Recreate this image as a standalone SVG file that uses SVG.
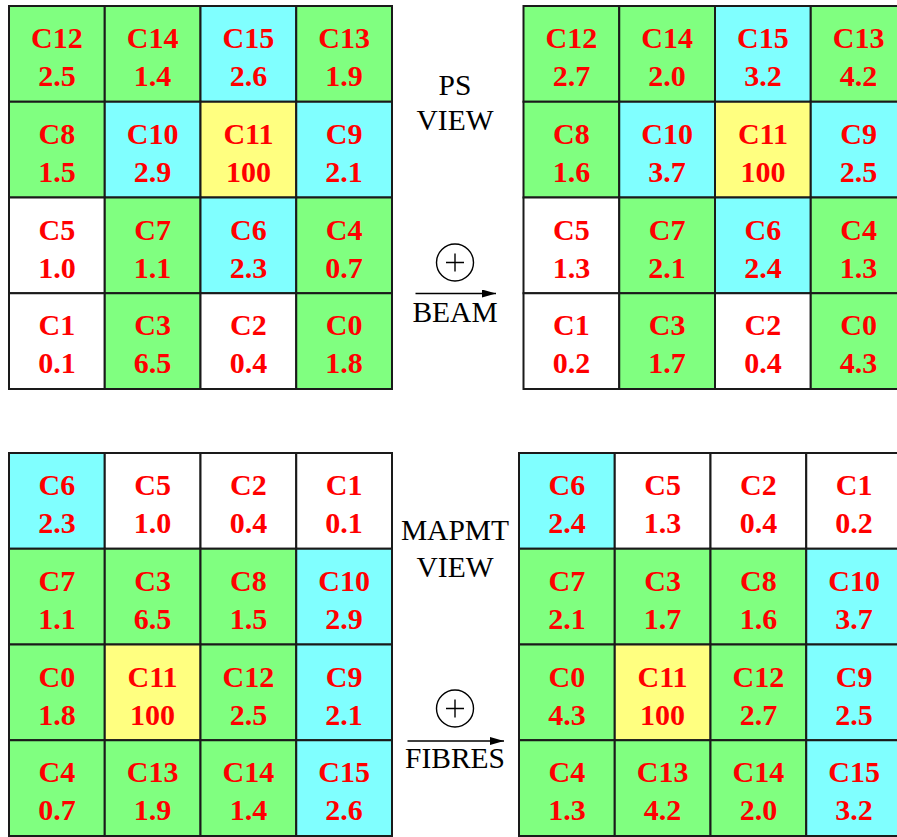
<svg xmlns="http://www.w3.org/2000/svg" width="897" height="837" viewBox="0 0 897 837">
<defs>
<style>
.g{fill:#80FF80}.c{fill:#80FFFF}.y{fill:#FFFF80}.w{fill:#FFFFFF}
.g,.c,.y,.w{stroke:#1a1a1a;stroke-width:2}
.t{font-family:"Liberation Serif","Times New Roman",serif;font-weight:bold;font-size:30px;fill:#FF0000;text-anchor:middle}
.lbl{font-family:"Liberation Serif","Times New Roman",serif;font-size:29.5px;fill:#000;text-anchor:middle}
.sym{fill:none;stroke:#000;stroke-width:1.4}
</style>
<marker id="ah" viewBox="0 0 14 8" refX="14" refY="4" markerWidth="14" markerHeight="8" markerUnits="userSpaceOnUse" orient="auto">
<path d="M0,0 L14,4 L0,8 Z" fill="#000"/>
</marker>
</defs>
<rect x="0" y="0" width="897" height="837" fill="#fff"/>

<g id="grid-ps-left">
<g id="tl-C12"><rect class="g" x="9" y="6" width="95.75" height="95.75"/><text class="t" x="56.9" y="48">C12</text><text class="t" x="56.9" y="86">2.5</text></g>
<g id="tl-C14"><rect class="g" x="104.75" y="6" width="95.75" height="95.75"/><text class="t" x="152.6" y="48">C14</text><text class="t" x="152.6" y="86">1.4</text></g>
<g id="tl-C15"><rect class="c" x="200.5" y="6" width="95.75" height="95.75"/><text class="t" x="248.4" y="48">C15</text><text class="t" x="248.4" y="86">2.6</text></g>
<g id="tl-C13"><rect class="g" x="296.25" y="6" width="95.75" height="95.75"/><text class="t" x="344.1" y="48">C13</text><text class="t" x="344.1" y="86">1.9</text></g>
<g id="tl-C8"><rect class="g" x="9" y="101.75" width="95.75" height="95.75"/><text class="t" x="56.9" y="143.75">C8</text><text class="t" x="56.9" y="181.75">1.5</text></g>
<g id="tl-C10"><rect class="c" x="104.75" y="101.75" width="95.75" height="95.75"/><text class="t" x="152.6" y="143.75">C10</text><text class="t" x="152.6" y="181.75">2.9</text></g>
<g id="tl-C11"><rect class="y" x="200.5" y="101.75" width="95.75" height="95.75"/><text class="t" x="248.4" y="143.75">C11</text><text class="t" x="248.4" y="181.75">100</text></g>
<g id="tl-C9"><rect class="c" x="296.25" y="101.75" width="95.75" height="95.75"/><text class="t" x="344.1" y="143.75">C9</text><text class="t" x="344.1" y="181.75">2.1</text></g>
<g id="tl-C5"><rect class="w" x="9" y="197.5" width="95.75" height="95.75"/><text class="t" x="56.9" y="239.5">C5</text><text class="t" x="56.9" y="277.5">1.0</text></g>
<g id="tl-C7"><rect class="g" x="104.75" y="197.5" width="95.75" height="95.75"/><text class="t" x="152.6" y="239.5">C7</text><text class="t" x="152.6" y="277.5">1.1</text></g>
<g id="tl-C6"><rect class="c" x="200.5" y="197.5" width="95.75" height="95.75"/><text class="t" x="248.4" y="239.5">C6</text><text class="t" x="248.4" y="277.5">2.3</text></g>
<g id="tl-C4"><rect class="g" x="296.25" y="197.5" width="95.75" height="95.75"/><text class="t" x="344.1" y="239.5">C4</text><text class="t" x="344.1" y="277.5">0.7</text></g>
<g id="tl-C1"><rect class="w" x="9" y="293.25" width="95.75" height="95.75"/><text class="t" x="56.9" y="335.25">C1</text><text class="t" x="56.9" y="373.25">0.1</text></g>
<g id="tl-C3"><rect class="g" x="104.75" y="293.25" width="95.75" height="95.75"/><text class="t" x="152.6" y="335.25">C3</text><text class="t" x="152.6" y="373.25">6.5</text></g>
<g id="tl-C2"><rect class="w" x="200.5" y="293.25" width="95.75" height="95.75"/><text class="t" x="248.4" y="335.25">C2</text><text class="t" x="248.4" y="373.25">0.4</text></g>
<g id="tl-C0"><rect class="g" x="296.25" y="293.25" width="95.75" height="95.75"/><text class="t" x="344.1" y="335.25">C0</text><text class="t" x="344.1" y="373.25">1.8</text></g>
</g>

<g id="grid-ps-right">
<g id="tr-C12"><rect class="g" x="523.5" y="6" width="95.75" height="95.75"/><text class="t" x="571.4" y="48">C12</text><text class="t" x="571.4" y="86">2.7</text></g>
<g id="tr-C14"><rect class="g" x="619.25" y="6" width="95.75" height="95.75"/><text class="t" x="667.1" y="48">C14</text><text class="t" x="667.1" y="86">2.0</text></g>
<g id="tr-C15"><rect class="c" x="715" y="6" width="95.75" height="95.75"/><text class="t" x="762.9" y="48">C15</text><text class="t" x="762.9" y="86">3.2</text></g>
<g id="tr-C13"><rect class="g" x="810.75" y="6" width="95.75" height="95.75"/><text class="t" x="858.6" y="48">C13</text><text class="t" x="858.6" y="86">4.2</text></g>
<g id="tr-C8"><rect class="g" x="523.5" y="101.75" width="95.75" height="95.75"/><text class="t" x="571.4" y="143.75">C8</text><text class="t" x="571.4" y="181.75">1.6</text></g>
<g id="tr-C10"><rect class="c" x="619.25" y="101.75" width="95.75" height="95.75"/><text class="t" x="667.1" y="143.75">C10</text><text class="t" x="667.1" y="181.75">3.7</text></g>
<g id="tr-C11"><rect class="y" x="715" y="101.75" width="95.75" height="95.75"/><text class="t" x="762.9" y="143.75">C11</text><text class="t" x="762.9" y="181.75">100</text></g>
<g id="tr-C9"><rect class="c" x="810.75" y="101.75" width="95.75" height="95.75"/><text class="t" x="858.6" y="143.75">C9</text><text class="t" x="858.6" y="181.75">2.5</text></g>
<g id="tr-C5"><rect class="w" x="523.5" y="197.5" width="95.75" height="95.75"/><text class="t" x="571.4" y="239.5">C5</text><text class="t" x="571.4" y="277.5">1.3</text></g>
<g id="tr-C7"><rect class="g" x="619.25" y="197.5" width="95.75" height="95.75"/><text class="t" x="667.1" y="239.5">C7</text><text class="t" x="667.1" y="277.5">2.1</text></g>
<g id="tr-C6"><rect class="c" x="715" y="197.5" width="95.75" height="95.75"/><text class="t" x="762.9" y="239.5">C6</text><text class="t" x="762.9" y="277.5">2.4</text></g>
<g id="tr-C4"><rect class="g" x="810.75" y="197.5" width="95.75" height="95.75"/><text class="t" x="858.6" y="239.5">C4</text><text class="t" x="858.6" y="277.5">1.3</text></g>
<g id="tr-C1"><rect class="w" x="523.5" y="293.25" width="95.75" height="95.75"/><text class="t" x="571.4" y="335.25">C1</text><text class="t" x="571.4" y="373.25">0.2</text></g>
<g id="tr-C3"><rect class="g" x="619.25" y="293.25" width="95.75" height="95.75"/><text class="t" x="667.1" y="335.25">C3</text><text class="t" x="667.1" y="373.25">1.7</text></g>
<g id="tr-C2"><rect class="w" x="715" y="293.25" width="95.75" height="95.75"/><text class="t" x="762.9" y="335.25">C2</text><text class="t" x="762.9" y="373.25">0.4</text></g>
<g id="tr-C0"><rect class="g" x="810.75" y="293.25" width="95.75" height="95.75"/><text class="t" x="858.6" y="335.25">C0</text><text class="t" x="858.6" y="373.25">4.3</text></g>
</g>

<g id="grid-mapmt-left">
<g id="bl-C6"><rect class="c" x="9" y="453" width="95.75" height="95.75"/><text class="t" x="56.9" y="495">C6</text><text class="t" x="56.9" y="533">2.3</text></g>
<g id="bl-C5"><rect class="w" x="104.75" y="453" width="95.75" height="95.75"/><text class="t" x="152.6" y="495">C5</text><text class="t" x="152.6" y="533">1.0</text></g>
<g id="bl-C2"><rect class="w" x="200.5" y="453" width="95.75" height="95.75"/><text class="t" x="248.4" y="495">C2</text><text class="t" x="248.4" y="533">0.4</text></g>
<g id="bl-C1"><rect class="w" x="296.25" y="453" width="95.75" height="95.75"/><text class="t" x="344.1" y="495">C1</text><text class="t" x="344.1" y="533">0.1</text></g>
<g id="bl-C7"><rect class="g" x="9" y="548.75" width="95.75" height="95.75"/><text class="t" x="56.9" y="590.75">C7</text><text class="t" x="56.9" y="628.75">1.1</text></g>
<g id="bl-C3"><rect class="g" x="104.75" y="548.75" width="95.75" height="95.75"/><text class="t" x="152.6" y="590.75">C3</text><text class="t" x="152.6" y="628.75">6.5</text></g>
<g id="bl-C8"><rect class="g" x="200.5" y="548.75" width="95.75" height="95.75"/><text class="t" x="248.4" y="590.75">C8</text><text class="t" x="248.4" y="628.75">1.5</text></g>
<g id="bl-C10"><rect class="c" x="296.25" y="548.75" width="95.75" height="95.75"/><text class="t" x="344.1" y="590.75">C10</text><text class="t" x="344.1" y="628.75">2.9</text></g>
<g id="bl-C0"><rect class="g" x="9" y="644.5" width="95.75" height="95.75"/><text class="t" x="56.9" y="686.5">C0</text><text class="t" x="56.9" y="724.5">1.8</text></g>
<g id="bl-C11"><rect class="y" x="104.75" y="644.5" width="95.75" height="95.75"/><text class="t" x="152.6" y="686.5">C11</text><text class="t" x="152.6" y="724.5">100</text></g>
<g id="bl-C12"><rect class="g" x="200.5" y="644.5" width="95.75" height="95.75"/><text class="t" x="248.4" y="686.5">C12</text><text class="t" x="248.4" y="724.5">2.5</text></g>
<g id="bl-C9"><rect class="c" x="296.25" y="644.5" width="95.75" height="95.75"/><text class="t" x="344.1" y="686.5">C9</text><text class="t" x="344.1" y="724.5">2.1</text></g>
<g id="bl-C4"><rect class="g" x="9" y="740.25" width="95.75" height="95.75"/><text class="t" x="56.9" y="782.25">C4</text><text class="t" x="56.9" y="820.25">0.7</text></g>
<g id="bl-C13"><rect class="g" x="104.75" y="740.25" width="95.75" height="95.75"/><text class="t" x="152.6" y="782.25">C13</text><text class="t" x="152.6" y="820.25">1.9</text></g>
<g id="bl-C14"><rect class="g" x="200.5" y="740.25" width="95.75" height="95.75"/><text class="t" x="248.4" y="782.25">C14</text><text class="t" x="248.4" y="820.25">1.4</text></g>
<g id="bl-C15"><rect class="c" x="296.25" y="740.25" width="95.75" height="95.75"/><text class="t" x="344.1" y="782.25">C15</text><text class="t" x="344.1" y="820.25">2.6</text></g>
</g>

<g id="grid-mapmt-right">
<g id="br-C6"><rect class="c" x="519" y="453" width="95.75" height="95.75"/><text class="t" x="566.9" y="495">C6</text><text class="t" x="566.9" y="533">2.4</text></g>
<g id="br-C5"><rect class="w" x="614.75" y="453" width="95.75" height="95.75"/><text class="t" x="662.6" y="495">C5</text><text class="t" x="662.6" y="533">1.3</text></g>
<g id="br-C2"><rect class="w" x="710.5" y="453" width="95.75" height="95.75"/><text class="t" x="758.4" y="495">C2</text><text class="t" x="758.4" y="533">0.4</text></g>
<g id="br-C1"><rect class="w" x="806.25" y="453" width="95.75" height="95.75"/><text class="t" x="854.1" y="495">C1</text><text class="t" x="854.1" y="533">0.2</text></g>
<g id="br-C7"><rect class="g" x="519" y="548.75" width="95.75" height="95.75"/><text class="t" x="566.9" y="590.75">C7</text><text class="t" x="566.9" y="628.75">2.1</text></g>
<g id="br-C3"><rect class="g" x="614.75" y="548.75" width="95.75" height="95.75"/><text class="t" x="662.6" y="590.75">C3</text><text class="t" x="662.6" y="628.75">1.7</text></g>
<g id="br-C8"><rect class="g" x="710.5" y="548.75" width="95.75" height="95.75"/><text class="t" x="758.4" y="590.75">C8</text><text class="t" x="758.4" y="628.75">1.6</text></g>
<g id="br-C10"><rect class="c" x="806.25" y="548.75" width="95.75" height="95.75"/><text class="t" x="854.1" y="590.75">C10</text><text class="t" x="854.1" y="628.75">3.7</text></g>
<g id="br-C0"><rect class="g" x="519" y="644.5" width="95.75" height="95.75"/><text class="t" x="566.9" y="686.5">C0</text><text class="t" x="566.9" y="724.5">4.3</text></g>
<g id="br-C11"><rect class="y" x="614.75" y="644.5" width="95.75" height="95.75"/><text class="t" x="662.6" y="686.5">C11</text><text class="t" x="662.6" y="724.5">100</text></g>
<g id="br-C12"><rect class="g" x="710.5" y="644.5" width="95.75" height="95.75"/><text class="t" x="758.4" y="686.5">C12</text><text class="t" x="758.4" y="724.5">2.7</text></g>
<g id="br-C9"><rect class="c" x="806.25" y="644.5" width="95.75" height="95.75"/><text class="t" x="854.1" y="686.5">C9</text><text class="t" x="854.1" y="724.5">2.5</text></g>
<g id="br-C4"><rect class="g" x="519" y="740.25" width="95.75" height="95.75"/><text class="t" x="566.9" y="782.25">C4</text><text class="t" x="566.9" y="820.25">1.3</text></g>
<g id="br-C13"><rect class="g" x="614.75" y="740.25" width="95.75" height="95.75"/><text class="t" x="662.6" y="782.25">C13</text><text class="t" x="662.6" y="820.25">4.2</text></g>
<g id="br-C14"><rect class="g" x="710.5" y="740.25" width="95.75" height="95.75"/><text class="t" x="758.4" y="782.25">C14</text><text class="t" x="758.4" y="820.25">2.0</text></g>
<g id="br-C15"><rect class="c" x="806.25" y="740.25" width="95.75" height="95.75"/><text class="t" x="854.1" y="782.25">C15</text><text class="t" x="854.1" y="820.25">3.2</text></g>
</g>

<g id="labels">
<text class="lbl" x="455" y="95">PS</text>
<text class="lbl" x="455" y="130">VIEW</text>
<text class="lbl" x="455" y="322">BEAM</text>
<text class="lbl" x="455" y="540">MAPMT</text>
<text class="lbl" x="455" y="577">VIEW</text>
<text class="lbl" x="455" y="768">FIBRES</text>
</g>

<g id="symbols">
<circle class="sym" cx="455" cy="262.5" r="18.5"/>
<path class="sym" d="M446,262.5 H464 M455,253.5 V271.5"/>
<circle class="sym" cx="455" cy="708.5" r="18.5"/>
<path class="sym" d="M446,708.5 H464 M455,699.5 V717.5"/>
</g>

<g id="connectors">
<line x1="415.5" y1="293.5" x2="496" y2="293.5" stroke="#000" stroke-width="1.4" marker-end="url(#ah)"/>
<line x1="407.5" y1="741" x2="504" y2="741" stroke="#000" stroke-width="1.4" marker-end="url(#ah)"/>
</g>
</svg>
